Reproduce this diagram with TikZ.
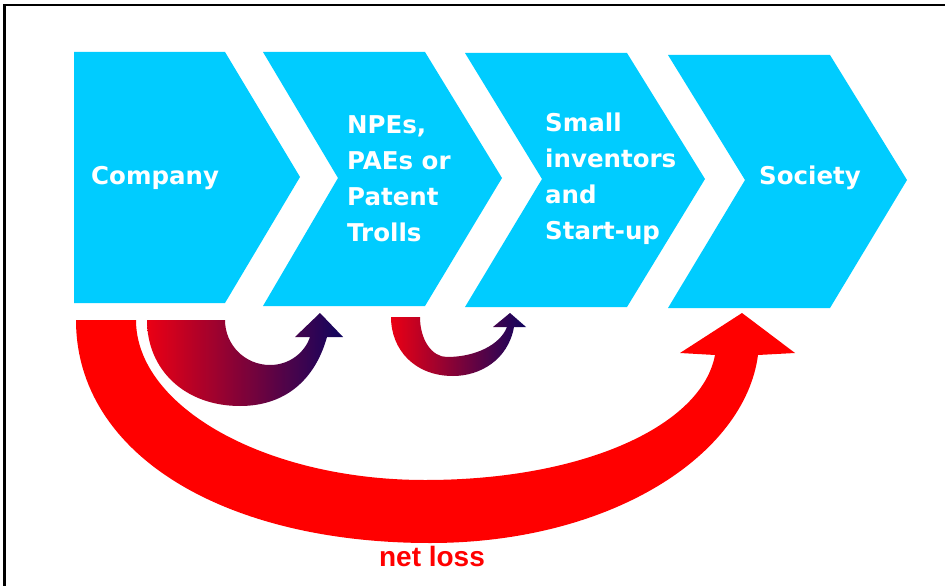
\documentclass[tikz,border=0pt]{standalone}
\usepackage{fontspec}
\setmainfont{DejaVu Sans}
\newfontfamily\libsans{Liberation Sans}
\definecolor{chev}{RGB}{0,204,255}
\definecolor{rd}{RGB}{255,0,0}
\definecolor{gradL}{RGB}{235,0,20}
\definecolor{gradR}{RGB}{15,5,95}
\tikzset{
  chevshape/.style={fill=chev, draw=none},
  chevtext/.style={text=white, font=\bfseries\fontsize{24.5}{36}\selectfont, align=left, anchor=west, inner sep=0pt},
  bigarrow/.style={fill=rd, draw=none},
  gradarrow/.style={left color=gradL, right color=gradR, draw=none},
}
\begin{document}
\begin{tikzpicture}[x=1pt,y=-1pt]
\useasboundingbox (0,0) rectangle (945,586);
\fill[white] (0,0) rectangle (945,586);
% frame
\draw[line width=2.2pt] (4.5,586) -- (4.5,5) -- (945,5);
% chevrons
\path[chevshape] (74,52) -- (225,52) -- (300,177) -- (225,303) -- (74,303) -- cycle;
\path[chevshape] (263,52) -- (425,52) -- (502,178) -- (425,306) -- (263,306) -- (338,178) -- cycle;
\path[chevshape] (465,53) -- (627,53) -- (705,179) -- (627,307) -- (465,307) -- (542,179) -- cycle;
\path[chevshape] (668,55) -- (830,55) -- (907,180) -- (830,308) -- (668,308) -- (745,180) -- cycle;
% texts
\node[chevtext] (company) at (91,178) {Company};
\node[chevtext] (npe) at (347,179) {NPEs,\\PAEs or\\Patent\\Trolls};
\node[chevtext] (small) at (545,179) {Small\\inventors\\and\\Start-up};
\node[chevtext] (society) at (759,178) {Society};
% big red arrow
\path[bigarrow] (76,320) .. controls (76,455) and (225,543) .. (430,543)
  .. controls (611,543) and (745,455) .. (758,355)
  -- (795,353) -- (742,313) -- (680,353) -- (715,355)
  .. controls (702,425) and (585,480) .. (425,480)
  .. controls (266,480) and (136,407) .. (136,320) -- cycle;
% gradient arrow 1
\shade[gradarrow] (147,320) -- (225,320)
  .. controls (225,345) and (245,365) .. (270,365)
  .. controls (290,365) and (305,352) .. (310,337)
  -- (295,337) -- (320,313) -- (343,337) -- (327,337)
  .. controls (315,380) and (285,406) .. (240,406)
  .. controls (185,406) and (147,370) .. (147,320) -- cycle;
% gradient arrow 2
\shade[gradarrow] (391,317) -- (420,317)
  .. controls (420,340) and (432,357) .. (447,357)
  .. controls (475,357) and (500,345) .. (507,327)
  -- (493,327) -- (510,313) -- (526,327) -- (514,327)
  .. controls (508,360) and (480,376) .. (453,376)
  .. controls (415,376) and (391,350) .. (391,317) -- cycle;
% label
\node[text=rd, font=\libsans\bfseries\fontsize{28}{30}\selectfont, inner sep=0pt] (netloss) at (432,556) {net loss};
\end{tikzpicture}
\end{document}
